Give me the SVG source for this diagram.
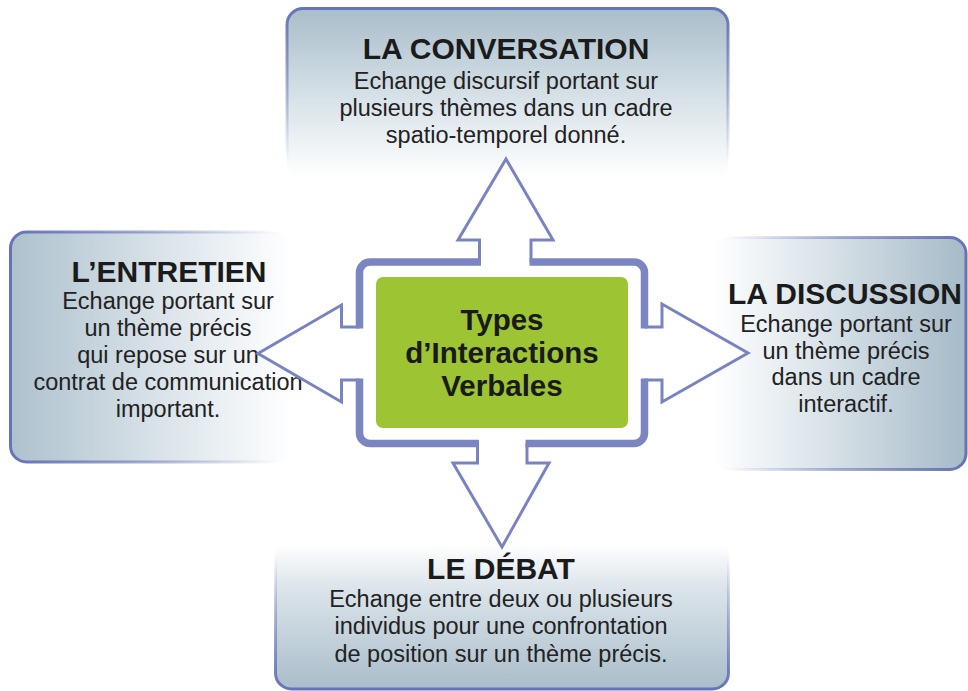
<svg xmlns="http://www.w3.org/2000/svg" width="968" height="691" viewBox="0 0 968 691">
<defs>
<linearGradient id="gTop" x1="0" y1="0" x2="0" y2="1"><stop offset="0" stop-color="#a9bdca"/><stop offset="0.55" stop-color="#d9e3e9"/><stop offset="1" stop-color="#ffffff"/></linearGradient>
<linearGradient id="sTop" x1="0" y1="0" x2="0" y2="1"><stop offset="0" stop-color="#6673b6"/><stop offset="0.5" stop-color="#6673b6" stop-opacity="0.5"/><stop offset="0.9" stop-color="#6673b6" stop-opacity="0"/></linearGradient>
<linearGradient id="gLeft" x1="0" y1="0" x2="1" y2="0"><stop offset="0" stop-color="#adc1cd"/><stop offset="0.55" stop-color="#dbe4ea"/><stop offset="1" stop-color="#ffffff"/></linearGradient>
<linearGradient id="sLeft" x1="0" y1="0" x2="1" y2="0"><stop offset="0" stop-color="#6673b6"/><stop offset="0.5" stop-color="#6673b6" stop-opacity="0.55"/><stop offset="0.95" stop-color="#6673b6" stop-opacity="0"/></linearGradient>
<linearGradient id="gRight" x1="1" y1="0" x2="0" y2="0"><stop offset="0" stop-color="#a6bac8"/><stop offset="0.55" stop-color="#d8e2e8"/><stop offset="1" stop-color="#ffffff"/></linearGradient>
<linearGradient id="sRight" x1="1" y1="0" x2="0" y2="0"><stop offset="0" stop-color="#6673b6"/><stop offset="0.5" stop-color="#6673b6" stop-opacity="0.55"/><stop offset="0.95" stop-color="#6673b6" stop-opacity="0"/></linearGradient>
<linearGradient id="gBot" x1="0" y1="1" x2="0" y2="0"><stop offset="0" stop-color="#a9bdca"/><stop offset="0.45" stop-color="#dbe4ea"/><stop offset="0.65" stop-color="#ffffff"/><stop offset="1" stop-color="#ffffff"/></linearGradient>
<linearGradient id="sBot" x1="0" y1="1" x2="0" y2="0"><stop offset="0" stop-color="#6673b6"/><stop offset="0.35" stop-color="#6673b6" stop-opacity="0.45"/><stop offset="0.6" stop-color="#6673b6" stop-opacity="0"/></linearGradient>
<style>
.title{font-family:"Liberation Sans",Arial,sans-serif;font-weight:bold;font-size:30px;fill:#1b1b1b;text-anchor:middle}
.body{font-family:"Liberation Sans",Arial,sans-serif;font-size:23.5px;fill:#222222;text-anchor:middle}
.center{font-family:"Liberation Sans",Arial,sans-serif;font-weight:bold;font-size:29.5px;fill:#1a1a1a;text-anchor:middle}
.arrow{fill:#ffffff;stroke:#7a83c1;stroke-width:3;stroke-linejoin:miter}
.frame{fill:none;stroke:#7b85c2;stroke-width:7.5;stroke-linecap:butt}
</style>
</defs>
<rect width="968" height="691" fill="#ffffff"/>

<g id="node-conversation">
<rect x="287" y="8.5" width="441" height="170" rx="16" fill="url(#gTop)" stroke="url(#sTop)" stroke-width="3"/>
<text class="title" x="506" y="59">LA CONVERSATION</text>
<text class="body" x="506" y="89">Echange discursif portant sur</text>
<text class="body" x="506" y="116">plusieurs thèmes dans un cadre</text>
<text class="body" x="506" y="143">spatio-temporel donné.</text>
</g>

<g id="node-entretien">
<rect x="10.5" y="232" width="282" height="230" rx="16" fill="url(#gLeft)" stroke="url(#sLeft)" stroke-width="3"/>
<text class="title" x="169" y="282">L’ENTRETIEN</text>
<text class="body" x="168" y="309">Echange portant sur</text>
<text class="body" x="168" y="336">un thème précis</text>
<text class="body" x="168" y="363">qui repose sur un</text>
<text class="body" x="168" y="390">contrat de communication</text>
<text class="body" x="168" y="417">important.</text>
</g>

<g id="node-discussion">
<rect x="712" y="237.5" width="254" height="232" rx="16" fill="url(#gRight)" stroke="url(#sRight)" stroke-width="3"/>
<text class="title" x="845" y="304">LA DISCUSSION</text>
<text class="body" x="846" y="332">Echange portant sur</text>
<text class="body" x="846" y="358.5">un thème précis</text>
<text class="body" x="846" y="385">dans un cadre</text>
<text class="body" x="846" y="411.5">interactif.</text>
</g>

<g id="node-debat">
<rect x="275.5" y="466" width="453" height="223" rx="16" fill="url(#gBot)" stroke="url(#sBot)" stroke-width="3"/>
<text class="title" x="501" y="579">LE DÉBAT</text>
<text class="body" x="501" y="607">Echange entre deux ou plusieurs</text>
<text class="body" x="501" y="634">individus pour une confrontation</text>
<text class="body" x="501" y="662">de position sur un thème précis.</text>
</g>

<g id="connectors">
<path class="arrow" d="M479.5 262 V240 H458 L506 159 L553 240 H531 V262"/>
<path class="arrow" d="M477.5 443.5 V463 H453 L502 547 L549 463 H527 V443.5"/>
<path class="arrow" d="M359.5 327 H341.5 V305 L258 353.5 L341.5 402 V380 H359.5"/>
<path class="arrow" d="M644.5 327 H662 V304 L748 353 L662 402 V380 H644.5"/>
</g>

<g id="node-center">
<path class="frame" d="M481 262 H370 A10.5 10.5 0 0 0 359.5 272.5 V328.5"/>
<path class="frame" d="M359.5 378.5 V433 A10.5 10.5 0 0 0 370 443.5 H479"/>
<path class="frame" d="M525.5 443.5 H634 A10.5 10.5 0 0 0 644.5 433 V378.5"/>
<path class="frame" d="M644.5 328.5 V272.5 A10.5 10.5 0 0 0 634 262 H529.5"/>
<rect x="376" y="277" width="252" height="151" rx="7" fill="#9dc432"/>
<text class="center" x="502" y="330">Types</text>
<text class="center" x="502" y="363">d’Interactions</text>
<text class="center" x="502" y="396">Verbales</text>
</g>
</svg>
